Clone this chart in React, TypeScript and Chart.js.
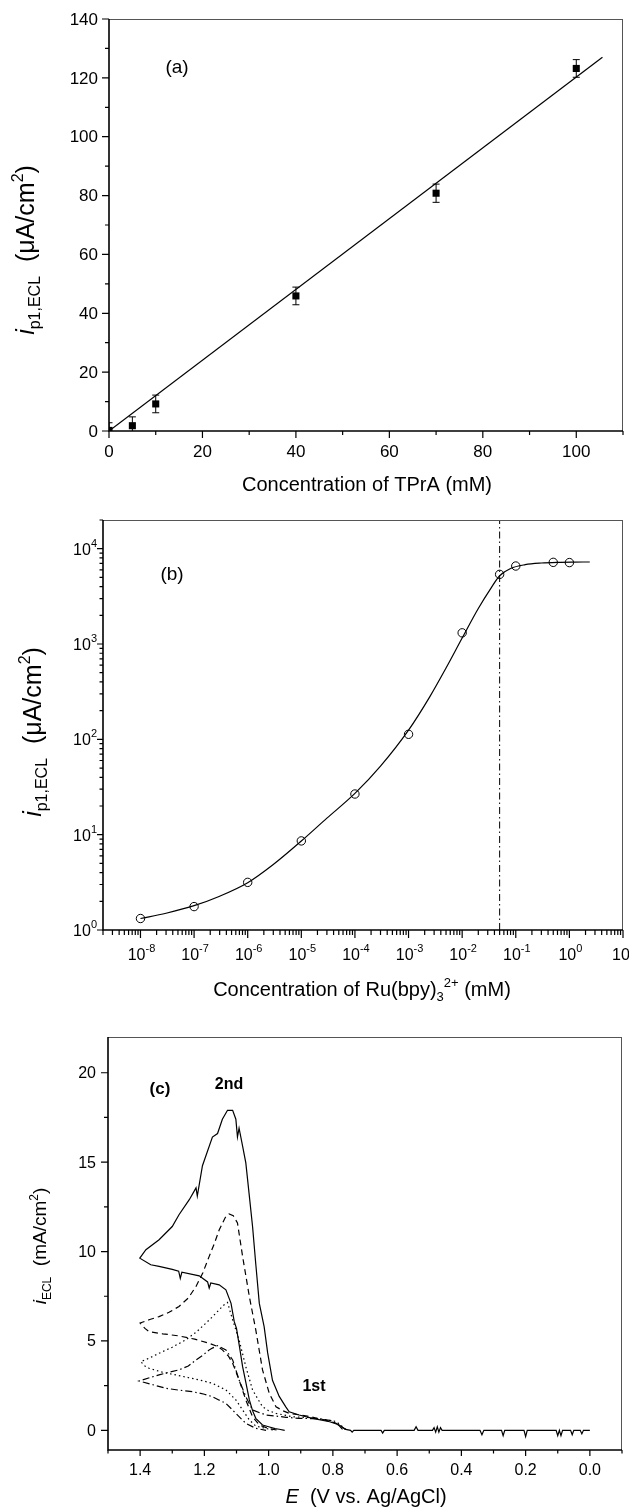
import React, { useEffect, useRef } from "react";
import { Chart, registerables } from "chart.js";

Chart.register(...registerables);

const FAMILY = '"Liberation Sans", Arial, Helvetica, sans-serif';
const PAGE_W = 629;

// ---------------- Panel (a): ECL vs TPrA concentration ----------------
const tpraConcentration = [0, 5, 10, 40, 70, 100];
const tpraEcl = [0.2, 1.8, 9.2, 45.9, 80.8, 123.2];
const tpraError = [2.6, 3.0, 3.0, 3.0, 3.1, 3.0];
const tpraFitX = [0, 105.6];
const tpraFitY = [0, 127];
const aXTicks = [0, 20, 40, 60, 80, 100];
const aXMinorTicks = [10, 30, 50, 70, 90, 110];
const aYTicks = [0, 20, 40, 60, 80, 100, 120, 140];
const aYMinorTicks = [10, 30, 50, 70, 90, 110, 130];

// ---------------- Panel (b): ECL vs Ru(bpy)3 concentration ----------------
const ruConcentration = [1e-8, 1e-7, 1e-6, 1e-5, 1e-4, 1e-3, 1e-2, 5e-2, 1e-1, 5e-1, 1];
const ruEcl = [1.32, 1.76, 3.16, 8.6, 26.7, 113, 1310, 5380, 6580, 7190, 7150];
const ruFitX = [1e-8, 3e-8, 1e-7, 3e-7, 1e-6, 3e-6, 1e-5, 3e-5, 1e-4, 3e-4, 1e-3, 2.5e-3, 5e-3, 1e-2, 2e-2, 3.5e-2, 5e-2, 8e-2, 1.5e-1, 3e-1, 6e-1, 1.2, 2.4];
const ruFitY = [1.32, 1.5, 1.8, 2.26, 3.13, 4.86, 8.57, 14.9, 27.1, 52.4, 125, 281, 560, 1156, 2360, 3910, 5200, 6200, 6800, 7080, 7200, 7240, 7250];
const ruLimitX = [0.05];
const bXRange = [2e-9, 10];
const bYRange = [1, 2e4];
const bXExponents = [-8, -7, -6, -5, -4, -3, -2, -1, 0, 1];
const bYExponents = [0, 1, 2, 3, 4];
const logMinorMultipliers = [2, 3, 4, 5, 6, 7, 8, 9];

// ---------------- Panel (c): ECL vs potential ----------------
const curveSolid: [number, number][] = [
  [0.0, 0], [0.02, 0], [0.025, -0.2], [0.03, 0], [0.05, 0], [0.055, -0.25], [0.06, 0], [0.085, 0], [0.09, -0.3], [0.095, 0],
  [0.1, -0.3], [0.105, 0], [0.195, 0], [0.2, -0.35], [0.205, 0], [0.265, 0], [0.27, -0.3], [0.275, 0], [0.33, 0], [0.336, -0.25],
  [0.342, 0], [0.46, 0], [0.465, 0.15], [0.47, -0.1], [0.475, 0.2], [0.48, -0.1], [0.485, 0.15], [0.49, 0], [0.535, 0], [0.541, 0.2],
  [0.547, 0], [0.64, 0], [0.645, -0.15], [0.65, 0], [0.735, 0], [0.74, -0.1], [0.745, 0], [0.76, 0.05], [0.78, 0.3], [0.81, 0.48],
  [0.863, 0.67], [0.905, 0.86], [0.936, 1.04], [0.946, 1.3], [0.967, 1.9], [0.988, 2.8], [1.003, 4.33], [1.014, 5.8], [1.029, 7.1],
  [1.04, 9.3], [1.05, 11.4], [1.06, 13.1], [1.071, 14.96], [1.081, 15.9], [1.092, 16.9], [1.097, 16.4], [1.102, 17.4], [1.112, 17.9],
  [1.128, 17.9], [1.144, 17.4], [1.159, 16.6], [1.175, 16.4], [1.206, 14.8], [1.222, 13.1], [1.226, 13.56], [1.247, 12.9],
  [1.279, 12.06], [1.3, 11.4], [1.341, 10.66], [1.382, 10.1], [1.401, 9.63],
  [1.367, 9.26], [1.341, 9.17], [1.3, 9.0], [1.28, 8.9], [1.275, 8.5], [1.27, 8.85], [1.216, 8.64], [1.19, 8.3], [1.185, 7.96],
  [1.18, 8.24], [1.154, 8.14], [1.133, 7.86], [1.117, 7.1], [1.107, 6.08], [1.1, 5.7], [1.09, 4.6], [1.081, 3.56], [1.07, 2.6],
  [1.06, 1.7], [1.05, 1.1], [1.04, 0.67], [1.019, 0.3], [1.0, 0.2], [0.98, 0.1], [0.967, 0.06], [0.95, 0],
];
const curveDashed: [number, number][] = [
  [0.76, 0.05], [0.79, 0.4], [0.83, 0.6], [0.88, 0.8], [0.936, 0.95], [0.956, 1.1], [0.977, 1.32], [0.998, 2.07], [1.019, 3.38],
  [1.04, 5.62], [1.06, 7.48], [1.081, 9.73], [1.097, 11.6], [1.11, 12.0], [1.123, 12.1], [1.135, 11.9], [1.154, 11.2], [1.17, 10.4],
  [1.185, 9.73], [1.205, 8.8], [1.226, 8.05], [1.25, 7.4], [1.279, 6.93], [1.31, 6.6], [1.341, 6.36], [1.37, 6.2], [1.4, 6.0],
  [1.385, 5.7], [1.372, 5.52], [1.33, 5.4], [1.279, 5.28], [1.23, 5.1], [1.185, 4.87], [1.16, 4.7], [1.144, 4.5], [1.125, 4.15],
  [1.112, 3.75], [1.092, 2.82], [1.071, 1.7], [1.05, 0.76], [1.029, 0.3], [1.0, 0.1], [0.97, 0],
];
const curveDotted: [number, number][] = [
  [0.76, 0.05], [0.79, 0.5], [0.83, 0.62], [0.88, 0.72], [0.926, 0.76], [0.977, 0.95], [1.0, 1.1], [1.019, 1.32], [1.035, 1.8],
  [1.05, 2.26], [1.071, 3.56], [1.092, 5.06], [1.112, 6.18], [1.128, 7.15], [1.14, 7.0], [1.154, 6.74], [1.175, 6.35], [1.195, 6.0],
  [1.225, 5.5], [1.258, 5.06], [1.3, 4.65], [1.341, 4.31], [1.37, 4.05], [1.398, 3.84],
  [1.385, 3.6], [1.372, 3.47], [1.33, 3.25], [1.289, 3.1], [1.25, 2.95], [1.216, 2.82], [1.175, 2.63], [1.133, 2.26], [1.102, 1.7],
  [1.081, 1.14], [1.06, 0.58], [1.04, 0.24], [1.008, 0.1], [0.98, 0],
];
const curveDashDot: [number, number][] = [
  [0.77, 0.05], [0.78, 0.25], [0.801, 0.54], [0.85, 0.65], [0.905, 0.67], [0.946, 0.73], [1.008, 0.86], [1.03, 1.0], [1.05, 1.14],
  [1.071, 1.88], [1.092, 2.82], [1.112, 3.94], [1.133, 4.5], [1.159, 4.74], [1.175, 4.6], [1.185, 4.5], [1.205, 4.2], [1.226, 3.94],
  [1.25, 3.6], [1.279, 3.38], [1.31, 3.25], [1.341, 3.1], [1.37, 2.95], [1.403, 2.76],
  [1.36, 2.55], [1.32, 2.35], [1.28, 2.25], [1.237, 2.16], [1.2, 2.02], [1.175, 1.88], [1.155, 1.7], [1.133, 1.51], [1.102, 0.95],
  [1.071, 0.39], [1.04, 0.11], [1.008, 0],
];
const cXRange = [-0.1, 1.5];
const cYRange = [-1.1, 22];
const cXTicks = [1.4, 1.2, 1.0, 0.8, 0.6, 0.4, 0.2, 0.0];
const cXMinorTicks = [1.5, 1.3, 1.1, 0.9, 0.7, 0.5, 0.3, 0.1, -0.1];
const cYTicks = [0, 5, 10, 15, 20];
const cYMinorTicks = [2.5, 7.5, 12.5, 17.5];

// ---------------- helpers ----------------
type Seg = { t: string; size: number; italic?: boolean; bold?: boolean; dy?: number };
type Layout = { top: number; height: number; left: number; right: number; plotTop: number; plotBottom: number };

function fontOf(s: Seg) {
  return `${s.italic ? "italic " : ""}${s.bold ? "bold " : ""}${s.size}px ${FAMILY}`;
}
function drawRich(ctx: CanvasRenderingContext2D, segs: Seg[], x: number, y: number, align: "left" | "center" | "right") {
  let w = 0;
  for (const s of segs) {
    ctx.font = fontOf(s);
    w += ctx.measureText(s.t).width;
  }
  let cx = align === "center" ? x - w / 2 : align === "right" ? x - w : x;
  ctx.textAlign = "left";
  ctx.textBaseline = "alphabetic";
  ctx.fillStyle = "#000";
  for (const s of segs) {
    ctx.font = fontOf(s);
    ctx.fillText(s.t, cx, y + (s.dy || 0));
    cx += ctx.measureText(s.t).width;
  }
}
function drawRotated(ctx: CanvasRenderingContext2D, segs: Seg[], baselineX: number, centerY: number) {
  ctx.save();
  ctx.translate(baselineX, centerY);
  ctx.rotate(-Math.PI / 2);
  drawRich(ctx, segs, 0, 0, "center");
  ctx.restore();
}
function drawFrame(ctx: CanvasRenderingContext2D, a: any) {
  ctx.save();
  ctx.strokeStyle = "#555";
  ctx.lineWidth = 1;
  ctx.beginPath();
  ctx.moveTo(a.left, a.top + 0.5);
  ctx.lineTo(a.right, a.top + 0.5);
  ctx.moveTo(a.right - 0.5, a.top);
  ctx.lineTo(a.right - 0.5, a.bottom);
  ctx.stroke();
  ctx.strokeStyle = "#000";
  ctx.lineWidth = 1.6;
  ctx.beginPath();
  ctx.moveTo(a.left, a.top);
  ctx.lineTo(a.left, a.bottom);
  ctx.lineTo(a.right, a.bottom);
  ctx.stroke();
  ctx.restore();
}
function ticksX(ctx: CanvasRenderingContext2D, scale: any, a: any, values: number[], len: number) {
  ctx.save();
  ctx.strokeStyle = "#000";
  ctx.lineWidth = 1.2;
  ctx.beginPath();
  for (const v of values) {
    const p = scale.getPixelForValue(v);
    if (p < a.left - 1 || p > a.right + 1) continue;
    ctx.moveTo(p, a.bottom);
    ctx.lineTo(p, a.bottom + len);
  }
  ctx.stroke();
  ctx.restore();
}
function ticksY(ctx: CanvasRenderingContext2D, scale: any, a: any, values: number[], len: number) {
  ctx.save();
  ctx.strokeStyle = "#000";
  ctx.lineWidth = 1.2;
  ctx.beginPath();
  for (const v of values) {
    const p = scale.getPixelForValue(v);
    if (p < a.top - 1 || p > a.bottom + 1) continue;
    ctx.moveTo(a.left, p);
    ctx.lineTo(a.left - len, p);
  }
  ctx.stroke();
  ctx.restore();
}
function logMinors(exps: number[], min: number, max: number) {
  const out: number[] = [];
  const all = [exps[0] - 1, ...exps];
  for (const e of all) for (const m of logMinorMultipliers) {
    const v = m * Math.pow(10, e);
    if (v >= min && v <= max) out.push(v);
  }
  return out;
}

function baseOptions(L: Layout, xs: any, ys: any) {
  return {
    animation: false,
    responsive: false,
    maintainAspectRatio: false,
    devicePixelRatio: 1,
    events: [],
    layout: { autoPadding: false, padding: { left: 0, right: PAGE_W - L.right, top: L.plotTop - L.top, bottom: 0 } },
    plugins: { legend: { display: false }, tooltip: { enabled: false }, title: { display: false } },
    scales: {
      x: {
        ...xs,
        grid: { display: false },
        border: { display: false },
        ticks: { display: false },
        afterFit: (s: any) => { s.height = L.top + L.height - L.plotBottom; },
      },
      y: {
        ...ys,
        grid: { display: false },
        border: { display: false },
        ticks: { display: false },
        afterFit: (s: any) => { s.width = L.left; },
      },
    },
  } as any;
}

// ---------------- layouts (page coordinates) ----------------
const LA: Layout = { top: 0, height: 505, left: 109, right: 623, plotTop: 19, plotBottom: 431 };
const LB: Layout = { top: 495, height: 515, left: 103, right: 623, plotTop: 520, plotBottom: 930 };
const LC: Layout = { top: 1000, height: 512, left: 108, right: 622, plotTop: 1037, plotBottom: 1450 };

const yTitleP1: Seg[] = [
  { t: "i", size: 25, italic: true },
  { t: "p1,ECL", size: 16, dy: 6 },
  { t: "  (\u03bcA/cm", size: 25 },
  { t: "2", size: 16, dy: -11 },
  { t: ")", size: 25 },
];

function buildA(canvas: HTMLCanvasElement) {
  const Y = (v: number) => v - LA.top;
  return new Chart(canvas, {
    type: "scatter",
    data: {
      datasets: [
        {
          data: tpraFitX.map((x, i) => ({ x, y: tpraFitY[i] })),
          showLine: true, borderColor: "#000", borderWidth: 1.2, pointRadius: 0, tension: 0,
        },
        {
          data: tpraConcentration.map((x, i) => ({ x, y: tpraEcl[i] })),
          showLine: false, pointStyle: "rect", pointRadius: 5, backgroundColor: "#000", borderColor: "#000", borderWidth: 0,
        },
      ],
    } as any,
    options: baseOptions(LA, { type: "linear", min: 0, max: 110 }, { type: "linear", min: 0, max: 140 }),
    plugins: [
      {
        id: "decoA",
        afterDatasetsDraw(chart: any) {
          const ctx = chart.ctx, a = chart.chartArea, xs = chart.scales.x, ys = chart.scales.y;
          ctx.save();
          ctx.beginPath();
          ctx.rect(a.left, a.top, a.right - a.left, a.bottom - a.top);
          ctx.clip();
          ctx.strokeStyle = "#000";
          ctx.lineWidth = 1;
          ctx.beginPath();
          tpraConcentration.forEach((c, i) => {
            const px = xs.getPixelForValue(c);
            const hi = ys.getPixelForValue(tpraEcl[i] + tpraError[i]);
            const lo = ys.getPixelForValue(tpraEcl[i] - tpraError[i]);
            ctx.moveTo(px, hi); ctx.lineTo(px, lo);
            ctx.moveTo(px - 3.5, hi); ctx.lineTo(px + 3.5, hi);
            ctx.moveTo(px - 3.5, lo); ctx.lineTo(px + 3.5, lo);
          });
          ctx.stroke();
          ctx.restore();
        },
        afterDraw(chart: any) {
          const ctx = chart.ctx, a = chart.chartArea, xs = chart.scales.x, ys = chart.scales.y;
          drawFrame(ctx, a);
          ticksX(ctx, xs, a, aXTicks, 7);
          ticksX(ctx, xs, a, aXMinorTicks, 4);
          ticksY(ctx, ys, a, aYTicks, 7);
          ticksY(ctx, ys, a, aYMinorTicks, 4);
          ctx.save();
          ctx.fillStyle = "#000";
          ctx.font = `17px ${FAMILY}`;
          ctx.textAlign = "center";
          ctx.textBaseline = "alphabetic";
          for (const v of aXTicks) ctx.fillText(String(v), xs.getPixelForValue(v), a.bottom + 26);
          ctx.textAlign = "right";
          ctx.textBaseline = "middle";
          for (const v of aYTicks) ctx.fillText(String(v), a.left - 11, ys.getPixelForValue(v) + 1);
          ctx.restore();
          drawRich(ctx, [{ t: "Concentration of TPrA (mM)", size: 20 }], 367, Y(491), "center");
          drawRotated(ctx, yTitleP1, 34, Y(250));
          drawRich(ctx, [{ t: "(a)", size: 19 }], 177, Y(73), "center");
        },
      } as any,
    ],
  });
}

function buildB(canvas: HTMLCanvasElement) {
  const Y = (v: number) => v - LB.top;
  return new Chart(canvas, {
    type: "scatter",
    data: {
      datasets: [
        {
          data: ruFitX.map((x, i) => ({ x, y: ruFitY[i] })),
          showLine: true, borderColor: "#000", borderWidth: 1.2, pointRadius: 0, cubicInterpolationMode: "monotone",
        },
        {
          data: [{ x: ruLimitX[0], y: bYRange[0] }, { x: ruLimitX[0], y: bYRange[1] }],
          showLine: true, borderColor: "#000", borderWidth: 1, pointRadius: 0, borderDash: [7, 3, 1.5, 3],
        },
        {
          data: ruConcentration.map((x, i) => ({ x, y: ruEcl[i] })),
          showLine: false, pointStyle: "circle", pointRadius: 4.2, backgroundColor: "rgba(0,0,0,0)", borderColor: "#000", borderWidth: 1,
        },
      ],
    } as any,
    options: baseOptions(
      LB,
      { type: "logarithmic", min: bXRange[0], max: bXRange[1] },
      { type: "logarithmic", min: bYRange[0], max: bYRange[1] },
    ),
    plugins: [
      {
        id: "decoB",
        afterDraw(chart: any) {
          const ctx = chart.ctx, a = chart.chartArea, xs = chart.scales.x, ys = chart.scales.y;
          drawFrame(ctx, a);
          const xMajor = bXExponents.map((e) => Math.pow(10, e));
          const yMajor = bYExponents.map((e) => Math.pow(10, e));
          ticksX(ctx, xs, a, xMajor, 8);
          ticksX(ctx, xs, a, logMinors(bXExponents, bXRange[0], bXRange[1]), 5);
          ticksY(ctx, ys, a, yMajor, 6);
          ticksY(ctx, ys, a, logMinors(bYExponents, bYRange[0], bYRange[1]), 3.5);
          for (const e of bXExponents) {
            drawRich(ctx, [{ t: "10", size: 16 }, { t: String(e), size: 11, dy: -8 }], xs.getPixelForValue(Math.pow(10, e)) + 1, a.bottom + 30, "center");
          }
          for (const e of bYExponents) {
            drawRich(ctx, [{ t: "10", size: 16 }, { t: String(e), size: 11, dy: -8 }], a.left - 6, ys.getPixelForValue(Math.pow(10, e)) + 6, "right");
          }
          drawRich(ctx, [
            { t: "Concentration of Ru(bpy)", size: 20 },
            { t: "3", size: 13, dy: 5 },
            { t: "2+", size: 13, dy: -9 },
            { t: " (mM)", size: 20 },
          ], 362, Y(996), "center");
          drawRotated(ctx, yTitleP1, 41, Y(732));
          drawRich(ctx, [{ t: "(b)", size: 19 }], 172, Y(580), "center");
        },
      } as any,
    ],
  });
}

function buildC(canvas: HTMLCanvasElement) {
  const Y = (v: number) => v - LC.top;
  const line = (pts: [number, number][], dash: number[]) => ({
    data: pts.map(([x, y]) => ({ x, y })),
    showLine: true, borderColor: "#000", borderWidth: 1.2, pointRadius: 0, tension: 0, borderDash: dash,
  });
  return new Chart(canvas, {
    type: "scatter",
    data: {
      datasets: [
        line(curveSolid, []),
        line(curveDashed, [6, 4]),
        line(curveDotted, [1.5, 3]),
        line(curveDashDot, [7, 3, 1.5, 3]),
      ],
    } as any,
    options: baseOptions(
      LC,
      { type: "linear", min: cXRange[0], max: cXRange[1], reverse: true },
      { type: "linear", min: cYRange[0], max: cYRange[1] },
    ),
    plugins: [
      {
        id: "decoC",
        afterDraw(chart: any) {
          const ctx = chart.ctx, a = chart.chartArea, xs = chart.scales.x, ys = chart.scales.y;
          drawFrame(ctx, a);
          ticksX(ctx, xs, a, cXTicks, 6);
          ticksX(ctx, xs, a, cXMinorTicks, 3.5);
          ticksY(ctx, ys, a, cYTicks, 7);
          ticksY(ctx, ys, a, cYMinorTicks, 4);
          ctx.save();
          ctx.fillStyle = "#000";
          ctx.font = `16px ${FAMILY}`;
          ctx.textAlign = "center";
          ctx.textBaseline = "alphabetic";
          for (const v of cXTicks) ctx.fillText(v.toFixed(1), xs.getPixelForValue(v), a.bottom + 25);
          ctx.textAlign = "right";
          ctx.textBaseline = "middle";
          for (const v of cYTicks) ctx.fillText(String(v), a.left - 12, ys.getPixelForValue(v) + 1);
          ctx.restore();
          drawRich(ctx, [{ t: "E", size: 20, italic: true }, { t: "  (V vs. Ag/AgCl)", size: 20 }], 366, Y(1503), "center");
          drawRotated(ctx, [
            { t: "i", size: 19, italic: true },
            { t: "ECL", size: 12, dy: 5 },
            { t: "  (mA/cm", size: 19 },
            { t: "2", size: 12, dy: -8 },
            { t: ")", size: 19 },
          ], 46, Y(1246));
          drawRich(ctx, [{ t: "(c)", size: 17, bold: true }], 160, Y(1094), "center");
          drawRich(ctx, [{ t: "2nd", size: 16, bold: true }], 229, Y(1089), "center");
          drawRich(ctx, [{ t: "1st", size: 16, bold: true }], 314, Y(1391), "center");
        },
      } as any,
    ],
  });
}

function ChartCanvas({ layout, build }: { layout: Layout; build: (c: HTMLCanvasElement) => Chart }) {
  const ref = useRef<HTMLCanvasElement>(null);
  useEffect(() => {
    if (!ref.current) return;
    const chart = build(ref.current);
    return () => chart.destroy();
  }, []);
  return (
    <canvas
      ref={ref}
      width={PAGE_W}
      height={layout.height}
      style={{ position: "absolute", left: 0, top: layout.top, width: PAGE_W, height: layout.height, display: "block" }}
    />
  );
}

export default function App() {
  useEffect(() => {
    document.body.style.margin = "0";
    document.body.style.background = "#fff";
  }, []);
  return (
    <div style={{ position: "relative", width: PAGE_W, height: 1512, background: "#fff", overflow: "hidden" }}>
      <ChartCanvas layout={LA} build={buildA} />
      <ChartCanvas layout={LB} build={buildB} />
      <ChartCanvas layout={LC} build={buildC} />
    </div>
  );
}
